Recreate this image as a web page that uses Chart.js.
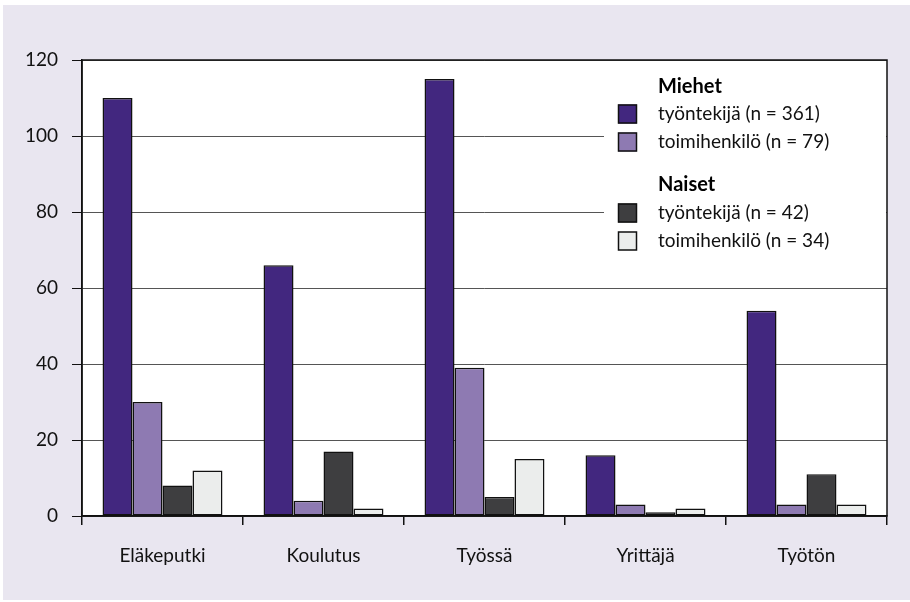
<!DOCTYPE html>
<html>
<head>
<meta charset="utf-8">
<script src="https://cdn.jsdelivr.net/npm/chart.js@4"></script>
<style>
  html, body { margin: 0; padding: 0; background: #ffffff; }
  #wrap { position: relative; width: 910px; height: 602px; }
  canvas { display: block; }
</style>
</head>
<body>
<div id="wrap"><canvas id="c" width="910" height="602"></canvas></div>
<script>
const categories = ["Eläkeputki", "Koulutus", "Työssä", "Yrittäjä", "Työtön"];
const miehetTyontekija = [110, 66, 115, 16, 54];
const miehetToimihenkilo = [30, 4, 39, 3, 3];
const naisetTyontekija = [8, 17, 5, 1, 11];
const naisetToimihenkilo = [12, 2, 15, 2, 3];
const seriesLabels = ["työntekijä (n = 361)", "toimihenkilö (n = 79)", "työntekijä (n = 42)", "toimihenkilö (n = 34)"];
const groupLabels = ["Miehet", "Naiset"];
const yMin = 0, yMax = 120, yStep = 20;

const colors = ["#42277f", "#8e7ab2", "#3e3e40", "#ebedec"];
const FONT = "Lato, 'Open Sans', sans-serif";
const TEXT = "#111111";
const FS = 19;
const LFS = 19;

const bgPlugin = {
  id: 'bg',
  beforeDraw(chart) {
    const ctx = chart.ctx;
    ctx.save();
    ctx.fillStyle = "#e9e6f0";
    ctx.fillRect(3, 5, chart.width - 3, chart.height - 7);
    const a = chart.chartArea;
    ctx.fillStyle = "#ffffff";
    ctx.fillRect(a.left, a.top, a.right - a.left, a.bottom - a.top);
    ctx.restore();
  }
};

const framePlugin = {
  id: 'frame',
  afterDatasetsDraw(chart) {
    const ctx = chart.ctx;
    const a = chart.chartArea;
    ctx.save();
    ctx.fillStyle = "#ffffff";
    ctx.fillRect(a.right - 283, a.top + 4, 282, 200);
    const sx = a.right - 269, tx = a.right - 229;
    const rows = [
      {type: 'h', text: groupLabels[0], y: a.top + 27},
      {type: 's', i: 0, y: a.top + 54},
      {type: 's', i: 1, y: a.top + 82},
      {type: 'h', text: groupLabels[1], y: a.top + 125},
      {type: 's', i: 2, y: a.top + 153},
      {type: 's', i: 3, y: a.top + 181}
    ];
    ctx.textBaseline = 'middle';
    ctx.textAlign = 'left';
    rows.forEach(r => {
      if (r.type === 'h') {
        ctx.font = "bold " + (LFS + 1) + "px " + FONT;
        ctx.fillStyle = "#000";
        ctx.fillText(r.text, tx, r.y);
      } else {
        ctx.fillStyle = colors[r.i];
        ctx.fillRect(sx, r.y - 9.5, 19, 19);
        ctx.strokeStyle = "#111";
        ctx.lineWidth = 1.5;
        ctx.strokeRect(sx + 0.5, r.y - 9, 18, 18);
        ctx.font = LFS + "px " + FONT;
        ctx.fillStyle = TEXT;
        ctx.fillText(seriesLabels[r.i], tx, r.y);
      }
    });
    ctx.strokeStyle = "#111";
    ctx.lineWidth = 1.5;
    ctx.strokeRect(a.left, a.top, a.right - a.left, a.bottom - a.top);
    ctx.restore();
  }
};

new Chart(document.getElementById('c'), {
  type: 'bar',
  data: {
    labels: categories,
    datasets: [
      { label: seriesLabels[0], data: miehetTyontekija, backgroundColor: colors[0] },
      { label: seriesLabels[1], data: miehetToimihenkilo, backgroundColor: colors[1] },
      { label: seriesLabels[2], data: naisetTyontekija, backgroundColor: colors[2] },
      { label: seriesLabels[3], data: naisetToimihenkilo, backgroundColor: colors[3] }
    ].map(d => Object.assign(d, {
      borderColor: "#111", borderWidth: 1.5, borderSkipped: false,
      categoryPercentage: 0.745, barPercentage: 1.0
    }))
  },
  options: {
    responsive: false,
    animation: false,
    devicePixelRatio: 1,
    layout: { padding: { left: 0, top: 60, right: 23, bottom: 0 } },
    plugins: { legend: { display: false }, tooltip: { enabled: false } },
    scales: {
      x: {
        offset: true,
        grid: { offset: true, drawOnChartArea: false, drawTicks: true, tickLength: 9, color: "#111", lineWidth: 1.5 },
        border: { display: true, color: "#111", width: 1.5 },
        ticks: { color: TEXT, font: { family: FONT, size: FS }, padding: 19, maxRotation: 0 },
        afterFit(s) { s.height = 86; }
      },
      y: {
        min: yMin, max: yMax,
        ticks: { stepSize: yStep, color: TEXT, font: { family: FONT, size: FS }, padding: 14 },
        grid: { color: "#555", lineWidth: 1, tickLength: 10, tickColor: "#111" },
        border: { display: true, color: "#111", width: 1.5 },
        afterFit(s) { s.width = 82; }
      }
    }
  },
  plugins: [bgPlugin, framePlugin]
});
</script>
</body>
</html>
